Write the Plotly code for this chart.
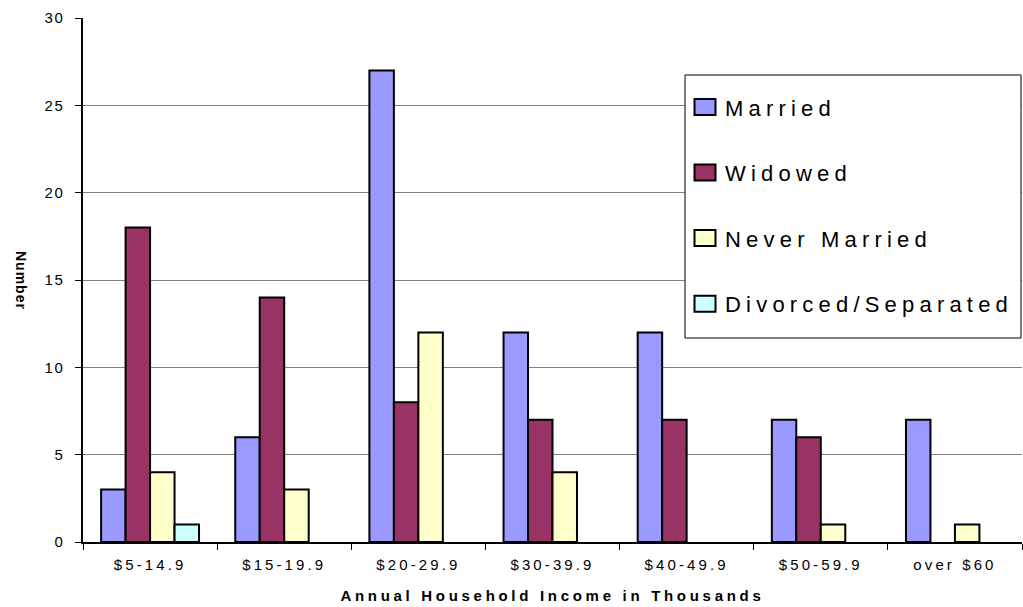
import plotly.graph_objects as go

categories = ["$5-14.9", "$15-19.9", "$20-29.9", "$30-39.9", "$40-49.9", "$50-59.9", "over $60"]
married = [3, 6, 27, 12, 12, 7, 7]
widowed = [18, 14, 8, 7, 7, 6, 0]
never_married = [4, 3, 12, 4, 0, 1, 1]
divorced = [1, 0, 0, 0, 0, 0, 0]
y_ticks = [0, 5, 10, 15, 20, 25, 30]

series = [
    ("Married", married, "#9999FF"),
    ("Widowed", widowed, "#993366"),
    ("Never Married", never_married, "#FFFFCC"),
    ("Divorced/Separated", divorced, "#CCFFFF"),
]

FONT = "Liberation Sans, Arial, sans-serif"

fig = go.Figure()
for i, (name, vals, color) in enumerate(series):
    # zero-count bars are not drawn (as in the original chart)
    fig.add_trace(go.Bar(
        x=categories, y=[v if v else None for v in vals], name=name, legendgroup=f"g{i}",
        marker=dict(color=color, line=dict(color="black", width=2)),
    ))

fig.update_layout(
    width=1023, height=607,
    margin=dict(l=83, r=1, t=18, b=65),
    paper_bgcolor="white", plot_bgcolor="white",
    barmode="group", bargap=0.27, bargroupgap=0,
    font=dict(family=FONT, color="black", size=15),
    showlegend=True,
    legend=dict(
        x=(685 - 83) / 939, y=0.870, xanchor="left", yanchor="top",
        font=dict(family=FONT, size=22, color="black"),
        traceorder="grouped", tracegroupgap=34,
        bgcolor="rgba(0,0,0,0)", borderwidth=0,
        itemclick=False, itemdoubleclick=False,
    ),
    shapes=[dict(
        type="rect", xref="paper", yref="paper",
        x0=(685 - 83) / 939, x1=(1021 - 83) / 939,
        y0=(542 - 338) / 524, y1=(542 - 75) / 524,
        line=dict(color="black", width=1), fillcolor="white", layer="above",
    )],
    annotations=[
        dict(text="<b>Annual Household Income in Thousands</b>", xref="paper", yref="paper",
             x=0.5, y=-0.103, xanchor="center", yanchor="middle", showarrow=False,
             font=dict(family=FONT, size=15, color="black")),
        dict(text="<b>Number</b>", xref="paper", yref="paper", textangle=90,
             x=-0.066, y=0.5, xanchor="center", yanchor="middle", showarrow=False,
             font=dict(family=FONT, size=14, color="black")),
    ],
)

fig.update_xaxes(
    type="category", categoryorder="array", categoryarray=categories,
    tickson="boundaries", ticks="outside", ticklen=6, tickcolor="black",
    ticklabelstandoff=8,
    showline=True, linecolor="black", linewidth=1.5,
    showgrid=False, automargin=False,
    tickfont=dict(family=FONT, size=15, color="black"),
)
fig.update_yaxes(
    range=[0, 30], tickvals=y_ticks, ticks="outside", ticklen=6, tickcolor="black",
    ticklabelstandoff=8,
    showline=True, linecolor="black", linewidth=1.5,
    showgrid=True, gridcolor="#808080", gridwidth=1,
    zeroline=False, automargin=False,
    tickfont=dict(family=FONT, size=15, color="black"),
)

post = """
document.body.style.margin = '0';
var gd = document.getElementById('{plot_id}');
function spacing() {
  gd.querySelectorAll('.xtick text').forEach(function(t){ t.style.letterSpacing = '3.1px'; });
  gd.querySelectorAll('.ytick text').forEach(function(t){ t.style.letterSpacing = '1.5px'; });
  gd.querySelectorAll('.legendtext').forEach(function(t){ t.style.letterSpacing = '5.2px'; });
  gd.querySelectorAll('.legend [clip-path]').forEach(function(e){ e.removeAttribute('clip-path'); });
  gd.querySelectorAll('.legend .legendpoints path').forEach(function(p){
    p.setAttribute('d', 'M10.5,8H-10.5V-8H10.5Z');
  });
  var ann = gd.querySelectorAll('.annotation-text');
  if (ann.length > 0) ann[0].style.letterSpacing = '3.7px';
  if (ann.length > 1) ann[1].style.letterSpacing = '1px';
}
spacing();
gd.on('plotly_afterplot', spacing);
"""

fig.write_html("out.html", post_script=post, config={"displayModeBar": False})
